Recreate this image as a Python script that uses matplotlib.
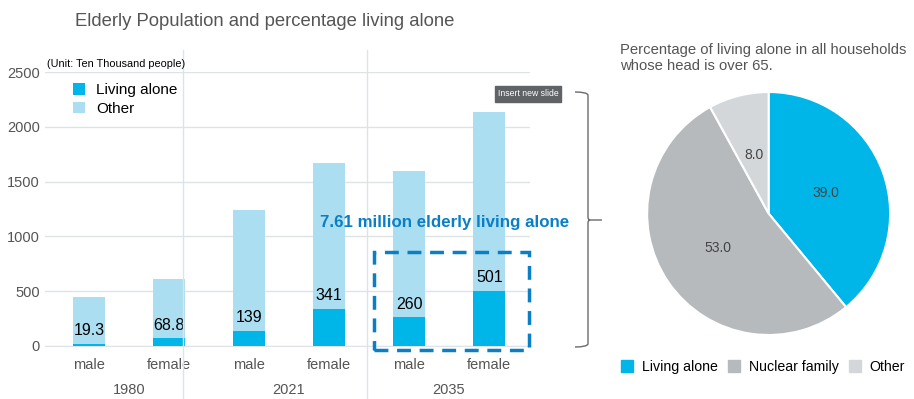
import matplotlib.pyplot as plt
from matplotlib.patches import Rectangle, Patch
from matplotlib.path import Path
from matplotlib.patches import PathPatch

plt.rcParams['font.family'] = ['Liberation Sans', 'DejaVu Sans']

# data (unit: ten thousand people)
groups = ["1980", "2021", "2035"]
sexes = ["male", "female", "male", "female", "male", "female"]
total = [447, 611, 1241, 1672, 1597, 2138]
living_alone = [19.3, 68.8, 139, 341, 260, 501]
alone_labels = ["19.3", "68.8", "139", "341", "260", "501"]

pie_labels = ["Living alone", "Nuclear family", "Other"]
pie_values = [39.0, 53.0, 8.0]

c_alone = "#00b5e8"
c_other = "#acdef2"
c_blue_txt = "#0a7fc6"
c_grey_txt = "#555555"

fig = plt.figure(figsize=(9.14, 3.99), dpi=100)
W, H = 914.0, 399.0

# ---- bar chart
ax = fig.add_axes([0.049, 0.133, 0.531, 0.6865])
x = list(range(len(sexes)))
rest = [t - a for t, a in zip(total, living_alone)]
ax.bar(x, living_alone, width=0.4, color=c_alone, label="Living alone", zorder=3)
ax.bar(x, rest, bottom=living_alone, width=0.4, color=c_other, label="Other", zorder=3)

for xi, v, s in zip(x, living_alone, alone_labels):
    ax.annotate(s, (xi, v), xytext=(0, 4), textcoords="offset points",
                ha="center", va="bottom", fontsize=11.5, color="black", zorder=5)

ax.set_xlim(-0.55, 5.51)
ax.set_ylim(0, 2500)
ax.set_yticks([0, 500, 1000, 1500, 2000, 2500])
ax.set_xticks(x)
ax.set_xticklabels(sexes)
ax.tick_params(axis="both", length=0, labelsize=10.5, labelcolor=c_grey_txt)
ax.tick_params(axis="x", pad=9)
ax.grid(axis="y", color="#dde3e6", linewidth=1, zorder=0)
for sp in ["top", "right", "left"]:
    ax.spines[sp].set_visible(False)
ax.spines["bottom"].set_color("#dde3e6")

# group separators (drawn in figure space, reaching below the axis)
for px in [183, 367]:
    fig.add_artist(plt.Line2D([px / W, px / W], [0, 1 - 50 / H],
                              color="#dde3e6", linewidth=1))

# year labels
for i, g in enumerate(groups):
    xc = (89 + 40 + 160 * i) / W
    fig.text(xc, 1 - 397 / H, g, ha="center", va="bottom", fontsize=10.5,
             color=c_grey_txt)

ax.legend(loc="upper left", bbox_to_anchor=(0.03, 1.01), frameon=False,
          fontsize=11, handlelength=0.8, handleheight=0.8, labelspacing=0.3,
          handletextpad=0.7)

fig.text(47 / W, 1 - 64 / H, "(Unit: Ten Thousand people)", fontsize=7.8,
         va="center", color="black")

fig.text(75 / W, 1 - 22 / H, "Elderly Population and percentage living alone",
         fontsize=13.3, color=c_grey_txt, va="center")

# highlight box and callout
ax.add_patch(Rectangle((3.56, -36), 1.93, 894, fill=False, edgecolor=c_blue_txt,
                       linewidth=2.5, linestyle=(0, (4, 2.5)), clip_on=False, zorder=6))
fig.text(320 / W, 1 - 222 / H, "7.61 million elderly living alone",
         fontsize=12.2, fontweight="bold", color=c_blue_txt, va="center")

fig.text(528 / W, 1 - 94 / H, "Insert new slide", fontsize=6.2, color="white",
         ha="center", va="center",
         bbox=dict(boxstyle="square,pad=0.35", facecolor="#5f6366", edgecolor="#5f6366"))

# curly brace
bx0, bx1, bx2 = 575, 588, 602
ytop, ymid, ybot = 92, 220, 347
verts = [
    (bx0, ytop), (bx1 - 1, ytop), (bx1, ytop + 3), (bx1, ymid - 3),
    (bx1, ymid), (bx1 + 2, ymid), (bx2, ymid),
    (bx1 + 2, ymid), (bx1, ymid), (bx1, ymid + 3),
    (bx1, ybot - 3), (bx1 - 1, ybot), (bx0, ybot),
]
codes = [Path.MOVETO, Path.CURVE3, Path.CURVE3, Path.LINETO,
         Path.CURVE3, Path.CURVE3, Path.LINETO,
         Path.MOVETO, Path.CURVE3, Path.CURVE3,
         Path.LINETO, Path.CURVE3, Path.CURVE3]
verts = [(vx / W, 1 - vy / H) for vx, vy in verts]
fig.add_artist(PathPatch(Path(verts, codes), facecolor="none", edgecolor="#6a6a6a",
                         linewidth=1.0, transform=fig.transFigure))

# ---- pie chart
pax = fig.add_axes([0.708, 0.1604, 0.2659, 0.609])
wedges, _, autotexts = pax.pie(pie_values, colors=[c_alone, "#b6babd", "#d4d7da"],
                               startangle=90, counterclock=False, autopct="%.1f",
                               pctdistance=0.5,
                               wedgeprops=dict(edgecolor="white", linewidth=1.5))
for t in autotexts:
    t.set_fontsize(10)
    t.set_color("#444444")
pax.set_xlim(-1, 1)
pax.set_ylim(-1, 1)
pax.set_aspect("equal")

fig.text(620 / W, 1 - 58 / H,
         "Percentage of living alone in all households\nwhose head is over 65.",
         fontsize=10.7, color=c_grey_txt, va="center", linespacing=1.1)

handles = [Patch(color=c) for c in [c_alone, "#b6babd", "#d4d7da"]]
fig.legend(handles, pie_labels, loc="center", bbox_to_anchor=(763 / W, 1 - 367 / H),
           ncol=3, frameon=False, fontsize=10.2, handlelength=0.85, handleheight=0.85,
           handletextpad=0.6, columnspacing=0.75, borderpad=0.1)

fig.savefig("out.png", dpi=100)
